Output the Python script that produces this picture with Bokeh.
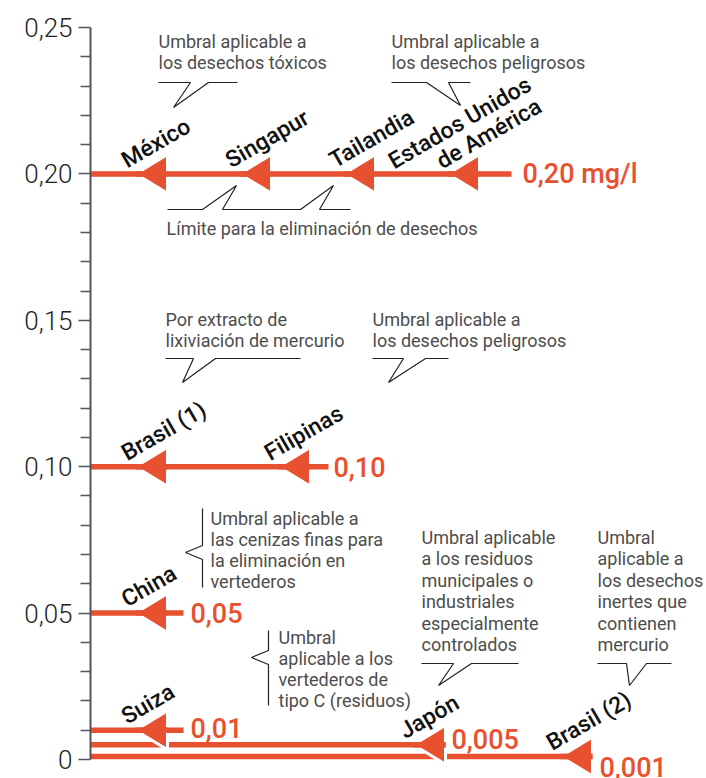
import math
from bokeh.plotting import figure
from bokeh.models import Range1d, FixedTicker, CustomJSTickFormatter
from bokeh.core.properties import value
from bokeh.embed import file_html
from bokeh.resources import INLINE

# ---------------- data ----------------
countries = ["México", "Singapur", "Tailandia", "Estados Unidos de América",
             "Brasil (1)", "Filipinas", "China", "Suiza", "Japón", "Brasil (2)"]
limits = [0.20, 0.20, 0.20, 0.20, 0.10, 0.10, 0.05, 0.01, 0.005, 0.001]
row_values = [0.20, 0.10, 0.05, 0.01, 0.005, 0.001]
row_labels = ["0,20 mg/l", "0,10", "0,05", "0,01", "0,005", "0,001"]
y_major_ticks = [0, 0.05, 0.10, 0.15, 0.20, 0.25]
y_minor_ticks = [0.01, 0.02, 0.03, 0.04, 0.06, 0.07, 0.08, 0.09, 0.11, 0.12, 0.13, 0.14,
                 0.16, 0.17, 0.18, 0.19, 0.21, 0.22, 0.23, 0.24]

notes_top_left = ["Umbral aplicable a", "los desechos tóxicos"]
notes_top_right = ["Umbral aplicable a", "los desechos peligrosos"]
note_limit = ["Límite para la eliminación de desechos"]
notes_mid_left = ["Por extracto de", "lixiviación de mercurio"]
notes_mid_right = ["Umbral aplicable a", "los desechos peligrosos"]
notes_china = ["Umbral aplicable a", "las cenizas finas para", "la eliminación en", "vertederos"]
notes_suiza = ["Umbral", "aplicable a los", "vertederos de", "tipo C (residuos)"]
notes_japon = ["Umbral aplicable", "a los residuos", "municipales o", "industriales",
               "especialmente", "controlados"]
notes_brasil2 = ["Umbral", "aplicable a", "los desechos", "inertes que", "contienen", "mercurio"]

# ---------------- layout ----------------
ORANGE = "#E8512F"
W, H = 706, 778
BL, BT = 90, 27
Y_MIN, Y_MAX = -0.0065, 0.25
FRAME_H = H - BT
SCALE = FRAME_H / (Y_MAX - Y_MIN)      # px per data unit
PAGE_X0 = BL
PAGE_Y0 = BT


def dy(px):
    return px / SCALE


def P(x, y):
    """picture pixel -> data coordinates (for decorations only)"""
    return x - PAGE_X0, Y_MAX - (y - PAGE_Y0) / SCALE


tip_x = [45, 149, 253, 357, 45, 188, 45, 45, 323, 470]
TRI_W, TRI_H = 32, 39
row_ext = {0.20: 32, 0.10: 18, 0.05: 16, 0.01: 16, 0.005: 0, 0.001: 0}
row_lab_dx = {0.20: 11, 0.10: 5, 0.05: 7, 0.01: 7, 0.005: 6, 0.001: 7}
row_lab_dy = {0.20: 0, 0.10: 0, 0.05: 0, 0.01: 2, 0.005: 6, 0.001: -10}
label_lines = {"Estados Unidos de América": ["Estados Unidos", "de América"]}

p = figure(width=W, height=H, x_range=Range1d(0, W - BL), y_range=Range1d(Y_MIN, Y_MAX),
           output_backend="svg", toolbar_location=None, x_axis_location=None,
           min_border_left=BL, min_border_top=BT, min_border_bottom=0, min_border_right=0,
           outline_line_color=None, background_fill_color="white")
p.xgrid.visible = False
p.ygrid.visible = False

ax = p.yaxis[0]
ax.bounds = (0, 0.25)
ax.ticker = FixedTicker(ticks=y_major_ticks, minor_ticks=y_minor_ticks)
ax.formatter = CustomJSTickFormatter(code="return tick == 0 ? '0' : tick.toFixed(2).replace('.', ',');")
ax.axis_line_color = "#555555"
ax.axis_line_width = 2
ax.major_tick_line_color = "#555555"
ax.major_tick_line_width = 1.5
ax.major_tick_out = 12
ax.major_tick_in = 0
ax.minor_tick_line_color = "#555555"
ax.minor_tick_line_width = 1.5
ax.minor_tick_out = 10
ax.minor_tick_in = 0
ax.major_label_standoff = 6
ax.major_label_text_font = "Roboto Light"
ax.major_label_text_font_size = "26px"
ax.major_label_text_color = "#222222"

# ---------------- rows: triangles then line (bottom rows first) ----------------
for v in sorted(row_values):
    idx = [i for i, l in enumerate(limits) if l == v]
    xs = [[tip_x[i], tip_x[i] + TRI_W, tip_x[i] + TRI_W] for i in idx]
    ys = [[v, v + dy(TRI_H / 2), v - dy(TRI_H / 2)] for i in idx]
    p.patches(xs, ys, fill_color=ORANGE, line_color="white", line_width=3)
    end = max(tip_x[i] for i in idx) + TRI_W + row_ext[v]
    p.segment(x0=[0], y0=[v], x1=[end], y1=[v], line_color=ORANGE, line_width=5.5)
    p.segment(x0=[tip_x[i] for i in idx], y0=[v] * len(idx),
              x1=[tip_x[i] + TRI_W for i in idx], y1=[v] * len(idx),
              line_color=ORANGE, line_width=5.5)
    lab = row_labels[row_values.index(v)]
    p.text(x=[end + row_lab_dx[v]], y=[v + dy(row_lab_dy[v])], text=[lab],
           text_font=value("Roboto Medium"), text_font_size="27px", text_color=ORANGE,
           text_align="left", text_baseline="middle")

# ---------------- country labels ----------------
ANG = math.pi / 6
cx, cy, ct = [], [], []
for i, name in enumerate(countries):
    lines = label_lines.get(name, [name])
    if len(lines) == 1:
        cx.append(tip_x[i] - 12)
        cy.append(limits[i] + dy(12))
        ct.append(name)
    else:
        cx += [tip_x[i] - 57, tip_x[i] - 9]
        cy += [limits[i] + dy(11), limits[i] + dy(11)]
        ct += lines
p.text(x=cx, y=cy, text=ct, angle=ANG, text_font=value("Roboto Medium"),
       text_font_size="23px", text_color="#111111", text_align="left", text_baseline="alphabetic")

# ---------------- notes ----------------
NOTE_COLOR = "#4d4d4d"


def note(lines, x, y_first, lh):
    xs, ys = [], []
    for k, _ in enumerate(lines):
        a, b = P(x, y_first + k * lh)
        xs.append(a)
        ys.append(b)
    p.text(x=xs, y=ys, text=lines, text_font=value("Roboto"), text_font_size="18px",
           text_color=NOTE_COLOR, text_align="left", text_baseline="middle")


def shape(pts):
    xs, ys = zip(*[P(a, b) for a, b in pts])
    p.line(list(xs), list(ys), line_color="#222222", line_width=1.2)


note(notes_top_left, 158, 41, 21)
shape([(158, 82), (190, 82), (173, 107), (208, 82), (237, 82)])
note(notes_top_right, 391, 41, 21)
shape([(391, 82), (426, 82), (460, 105), (448, 82), (470, 82)])

note(note_limit, 166, 228, 21)
shape([(167, 209), (202, 209), (236, 185), (222, 209), (300, 209), (333, 185), (319, 209), (350, 209)])

note(notes_mid_left, 165, 319, 21)
shape([(165, 358), (193, 358), (182, 382), (215, 358), (300, 358)])
note(notes_mid_right, 372, 319, 21)
shape([(372, 358), (403, 358), (388, 382), (425, 358), (448, 358)])

note(notes_china, 210, 518, 21)
shape([(202, 508), (202, 545), (185, 552), (202, 559), (202, 587)])

note(notes_suiza, 278, 637, 21)
shape([(268, 630), (268, 650), (251, 657), (268, 664), (268, 705)])

note(notes_japon, 421, 537, 21.4)
shape([(421, 663), (453, 663), (438, 685), (471, 663), (518, 663)])
note(notes_brasil2, 597, 537, 21.4)
shape([(597, 663), (626, 663), (629, 685), (646, 663), (671, 663)])

open("out.html", "w").write(file_html(p, INLINE))
